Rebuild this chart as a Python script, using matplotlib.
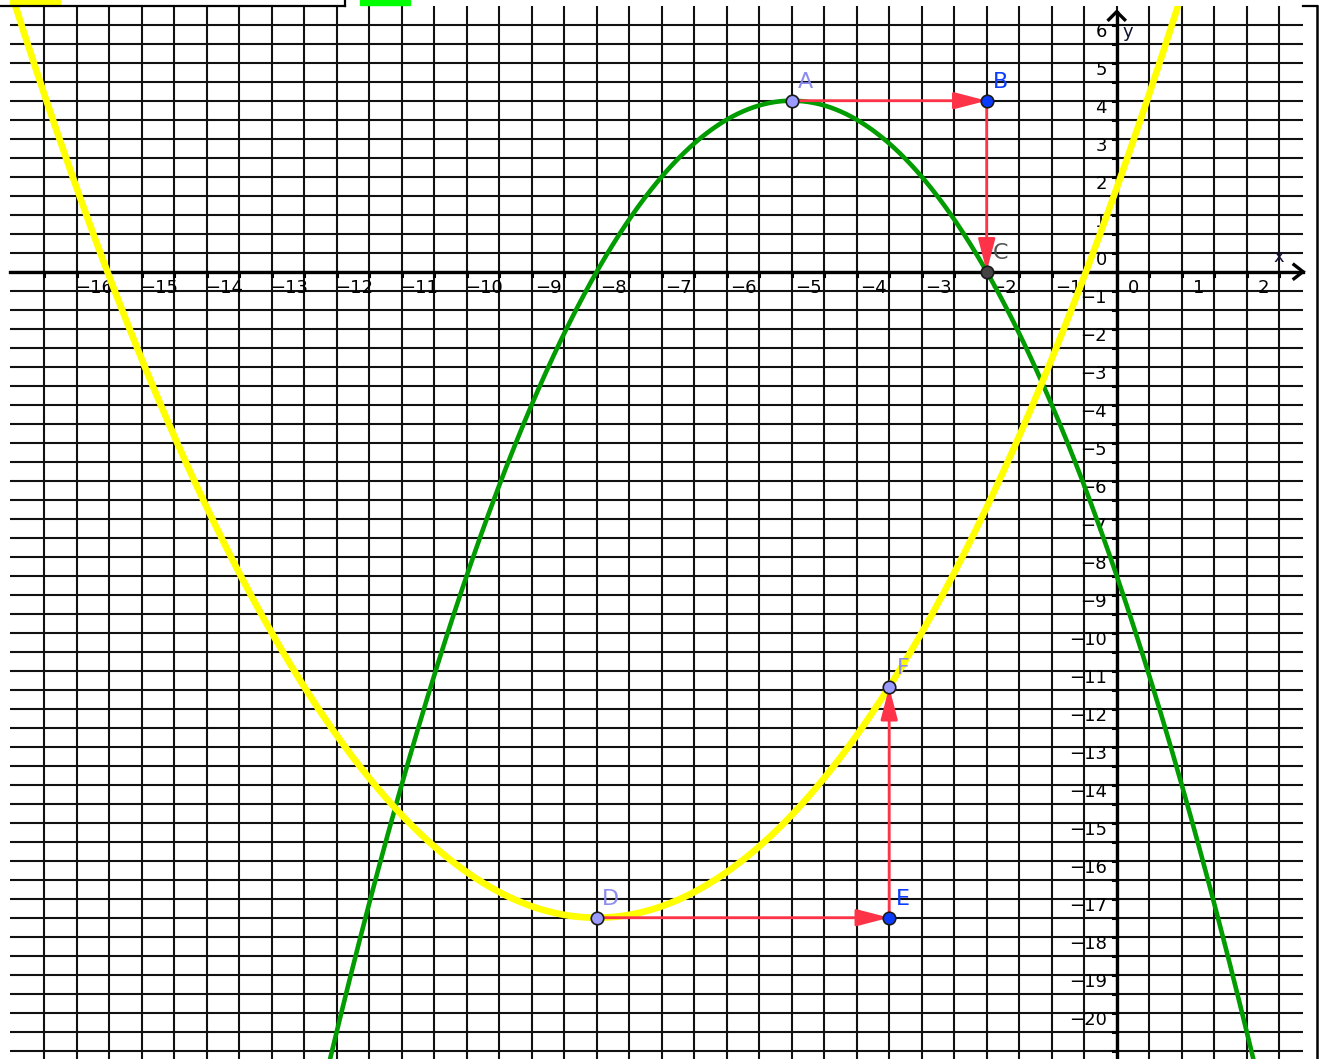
import numpy as np
import matplotlib.pyplot as plt
from matplotlib.lines import Line2D
from matplotlib.patches import FancyArrowPatch, Rectangle

W, H = 1321, 1059          # canvas size in pixels
OX, OY = 1116.7, 271.7     # where the origin sits on the canvas
UX, UY = 65.0, 38.0        # pixels per unit along x and y

# parabolas y = a (x - h)^2 + k, given by vertex (h, k) and a
green_vertex = (-5.0, 4.5)
green_a = -0.5
yellow_vertex = (-8.0, -17.0)
yellow_a = 0.3

# construction points
point_names = ["A", "B", "C", "D", "E", "F"]
point_x = [-5.0, -2.0, -2.0, -8.0, -3.5, -3.5]
point_y = [4.5, 4.5, 0.0, -17.0, -17.0, -10.925]
point_fill = ["#9a9aff", "#0a3cff", "#444444", "#9a9aff", "#0a3cff", "#9a9aff"]
label_color = ["#8c8cf0", "#0a3cff", "#555555", "#8c8cf0", "#0a3cff", "#8c8cf0"]

# vectors between points
vectors = [("A", "B"), ("B", "C"), ("D", "E"), ("E", "F")]

x_ticks = list(range(-16, 3))
y_ticks = list(range(-20, 7))


def to_x(px):
    return (px - OX) / UX


def to_y(py):
    return (OY - py) / UY


def fig_xy(px, py):
    return px / W, 1 - py / H


fig = plt.figure(figsize=(W / 100, H / 100), dpi=100)
ax = fig.add_axes([0, 0, 1, 1])
ax.set_xlim(to_x(0), to_x(W))
ax.set_ylim(to_y(H), to_y(0))
ax.axis("off")

# drawing area
left, right = to_x(10), to_x(1303)
top, bottom = to_y(6), to_y(H)

# grid every half unit
for gx in np.arange(-16.5, 2.51, 0.5):
    ax.plot([gx, gx], [bottom, top], color="#111111", lw=1.5, zorder=1,
            solid_capstyle="butt")
for gy in np.arange(-20.5, 6.51, 0.5):
    ax.plot([left, right], [gy, gy], color="#111111", lw=1.5, zorder=1,
            solid_capstyle="butt")

# axes with open arrowheads
ax.plot([left, right], [0, 0], color="black", lw=2.4, zorder=2)
ax.plot([0, 0], [bottom, to_y(11.7)], color="black", lw=2.4, zorder=2)
ax.plot([right - 9 / UX, right, right - 9 / UX], [7 / UY, 0, -7 / UY],
        color="black", lw=2.4, zorder=2, solid_joinstyle="miter")
ax.plot([-8 / UX, 0, 8 / UX], [to_y(11.7) - 8 / UY, to_y(11.7), to_y(11.7) - 8 / UY],
        color="black", lw=2.4, zorder=2, solid_joinstyle="miter")

# small tick marks
for gx in np.arange(-16.5, 2.51, 0.5):
    ax.plot([gx, gx], [0, -4 / UY], color="black", lw=2.2, zorder=2)
for gy in np.arange(-20.5, 6.51, 0.5):
    ax.plot([0, -4 / UX], [gy, gy], color="black", lw=2.2, zorder=2)

# tick labels
for k in x_ticks:
    txt = str(k).replace("-", "\u2212")
    ax.text(k + 17 / UX, -16 / UY, txt, ha="center", va="center",
            fontsize=13, color="black", zorder=3)
for k in y_ticks:
    txt = str(k).replace("-", "\u2212")
    ax.text(-10 / UX, k + 12 / UY, txt, ha="right", va="center",
            fontsize=13, color="black", zorder=3)
ax.text(to_x(1279), to_y(257), "x", ha="center", va="center", fontsize=13,
        color="#111133", zorder=3)
ax.text(to_x(1128), to_y(32), "y", ha="center", va="center", fontsize=13,
        color="#111133", zorder=3)

# parabolas, clipped to the drawing area
clip = Rectangle((left, bottom), right - left, top - bottom,
                 transform=ax.transData)
xs = np.linspace(left, right, 1200)
h, k = green_vertex
g_line, = ax.plot(xs, green_a * (xs - h) ** 2 + k, color="#009c00", lw=3.3,
                  zorder=4, solid_capstyle="butt")
h, k = yellow_vertex
y_line, = ax.plot(xs, yellow_a * (xs - h) ** 2 + k, color="#ffff00", lw=4.8,
                  zorder=4, solid_capstyle="butt")
g_line.set_clip_path(clip)
y_line.set_clip_path(clip)

# vectors
pos = {n: (x, y) for n, x, y in zip(point_names, point_x, point_y)}
for a, b in vectors:
    arrow = FancyArrowPatch(pos[a], pos[b],
                            arrowstyle="-|>,head_length=20,head_width=5.2",
                            mutation_scale=1, shrinkA=0, shrinkB=0,
                            color="#ff3347", lw=2.0, zorder=5)
    ax.add_patch(arrow)

# points and their labels
for n, x, y, fc, lc in zip(point_names, point_x, point_y, point_fill, label_color):
    ax.plot(x, y, "o", ms=9, mfc=fc, mec="#1a1a1a", mew=1.2, zorder=6)
    ax.annotate(n, (x, y), xytext=(10, 13.5), textcoords="offset points",
                ha="center", va="center", fontsize=16, color=lc, zorder=7)

# frame pieces and colour swatches along the top
fig.add_artist(Line2D([0, 345 / W], [1 - 6 / H] * 2, color="black", lw=1.6,
                      transform=fig.transFigure))
fig.add_artist(Line2D([345 / W] * 2, [1, 1 - 6 / H], color="black", lw=1.6,
                      transform=fig.transFigure))
fig.add_artist(Line2D([1303 / W, 1317 / W], [1 - 6 / H] * 2, color="black",
                      lw=1.6, transform=fig.transFigure))
fig.add_artist(Line2D([1317 / W] * 2, [1 - 6 / H, 0], color="black", lw=1.8,
                      transform=fig.transFigure))
fig.add_artist(Rectangle(fig_xy(10, 5), 50 / W, 5 / H, color="#ffff00",
                         transform=fig.transFigure))
fig.add_artist(Rectangle(fig_xy(360, 5), 50 / W, 5 / H, color="#00ff00",
                         transform=fig.transFigure))

fig.savefig("out.png", dpi=100)
